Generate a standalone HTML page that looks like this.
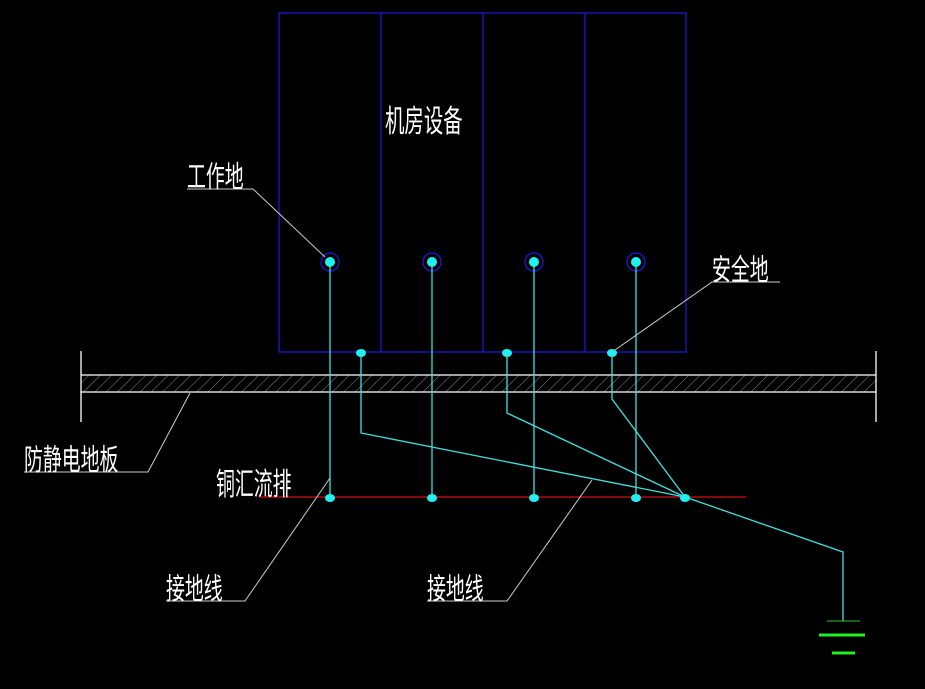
<!DOCTYPE html>
<html><head><meta charset="utf-8"><style>
html,body{margin:0;padding:0;background:#000;}
svg{display:block}
text{font-family:"Liberation Sans","Noto Sans CJK SC",sans-serif;fill:#fff;font-size:27px;}
</style></head><body>
<svg width="925" height="689" viewBox="0 0 925 689" xmlns="http://www.w3.org/2000/svg">
<defs>
<pattern id="h" width="8" height="8" patternUnits="userSpaceOnUse" patternTransform="rotate(45)">
<line x1="0" y1="0" x2="0" y2="8" stroke="#888" stroke-width="1"/>
</pattern>
</defs>
<!-- equipment box -->
<g stroke="#1a1ad0" stroke-width="1.3" fill="none">
<rect x="279" y="13" width="407" height="339"/>
<line x1="381" y1="13" x2="381" y2="352"/>
<line x1="483" y1="13" x2="483" y2="352"/>
<line x1="585" y1="13" x2="585" y2="352"/>
<circle cx="330" cy="262" r="9"/><circle cx="432" cy="262" r="9"/>
<circle cx="534" cy="262" r="9"/><circle cx="636" cy="262" r="9"/>
</g>
<!-- floor -->
<rect x="81" y="375" width="795" height="17" fill="url(#h)"/>
<g stroke="#fff" stroke-width="1.3">
<line x1="81" y1="375" x2="876" y2="375"/><line x1="81" y1="392" x2="876" y2="392"/>
<line x1="81" y1="351" x2="81" y2="422"/><line x1="876" y1="351" x2="876" y2="422"/>
</g>
<!-- red bus -->
<line x1="260" y1="497" x2="746" y2="497" stroke="#d01010" stroke-width="1.3"/>
<!-- cyan wires -->
<g stroke="#40e0e0" stroke-width="1.3" fill="none">
<line x1="330" y1="262" x2="330" y2="497"/><line x1="432" y1="262" x2="432" y2="497"/>
<line x1="534" y1="262" x2="534" y2="497"/><line x1="636" y1="262" x2="636" y2="497"/>
<polyline points="361,352 361,433 685,497"/>
<polyline points="507,352 507,413 685,497"/>
<polyline points="612,352 612,399 685,497"/>
<polyline points="685,497 843,552 843,621"/>
</g>
<g fill="#20f0f0">
<circle cx="330" cy="262" r="5"/><circle cx="432" cy="262" r="5"/>
<circle cx="534" cy="262" r="5"/><circle cx="636" cy="262" r="5"/>
<ellipse cx="361" cy="353" rx="5" ry="4"/><ellipse cx="507" cy="353" rx="5" ry="4"/><ellipse cx="612" cy="353" rx="5" ry="4"/>
<ellipse cx="330" cy="498" rx="5" ry="4"/><ellipse cx="432" cy="498" rx="5" ry="4"/><ellipse cx="534" cy="498" rx="5" ry="4"/>
<ellipse cx="636" cy="498" rx="5" ry="4"/><ellipse cx="685" cy="498" rx="5" ry="4"/>
</g>
<!-- ground -->
<line x1="827" y1="621" x2="860" y2="621" stroke="#30c030" stroke-width="1"/>
<line x1="819" y1="635" x2="865" y2="635" stroke="#20f020" stroke-width="3"/>
<line x1="832" y1="653" x2="855" y2="653" stroke="#20f020" stroke-width="3"/>
<!-- leaders -->
<g stroke="#ccc" stroke-width="1" fill="none">
<polyline points="187,189 253,189 325,257"/>
<polyline points="780,282 712,282 615,350"/>
<polyline points="24,472 148,472 190,393"/>
<polyline points="166,601 245,601 330,478"/>
<polyline points="427,601 507,601 592,480"/>
</g>
<!-- labels -->
<g>
<text transform="translate(385,132) scale(0.72,1.15)">机房设备</text>
<text transform="translate(187,187) scale(0.7,1.1)">工作地</text>
<text transform="translate(712,280) scale(0.7,1.1)">安全地</text>
<text transform="translate(24,470) scale(0.7,1.1)">防静电地板</text>
<text transform="translate(216,495) scale(0.7,1.15)">铜汇流排</text>
<text transform="translate(166,599) scale(0.7,1.1)">接地线</text>
<text transform="translate(427,599) scale(0.7,1.1)">接地线</text>
</g>
</svg>
</body></html>
